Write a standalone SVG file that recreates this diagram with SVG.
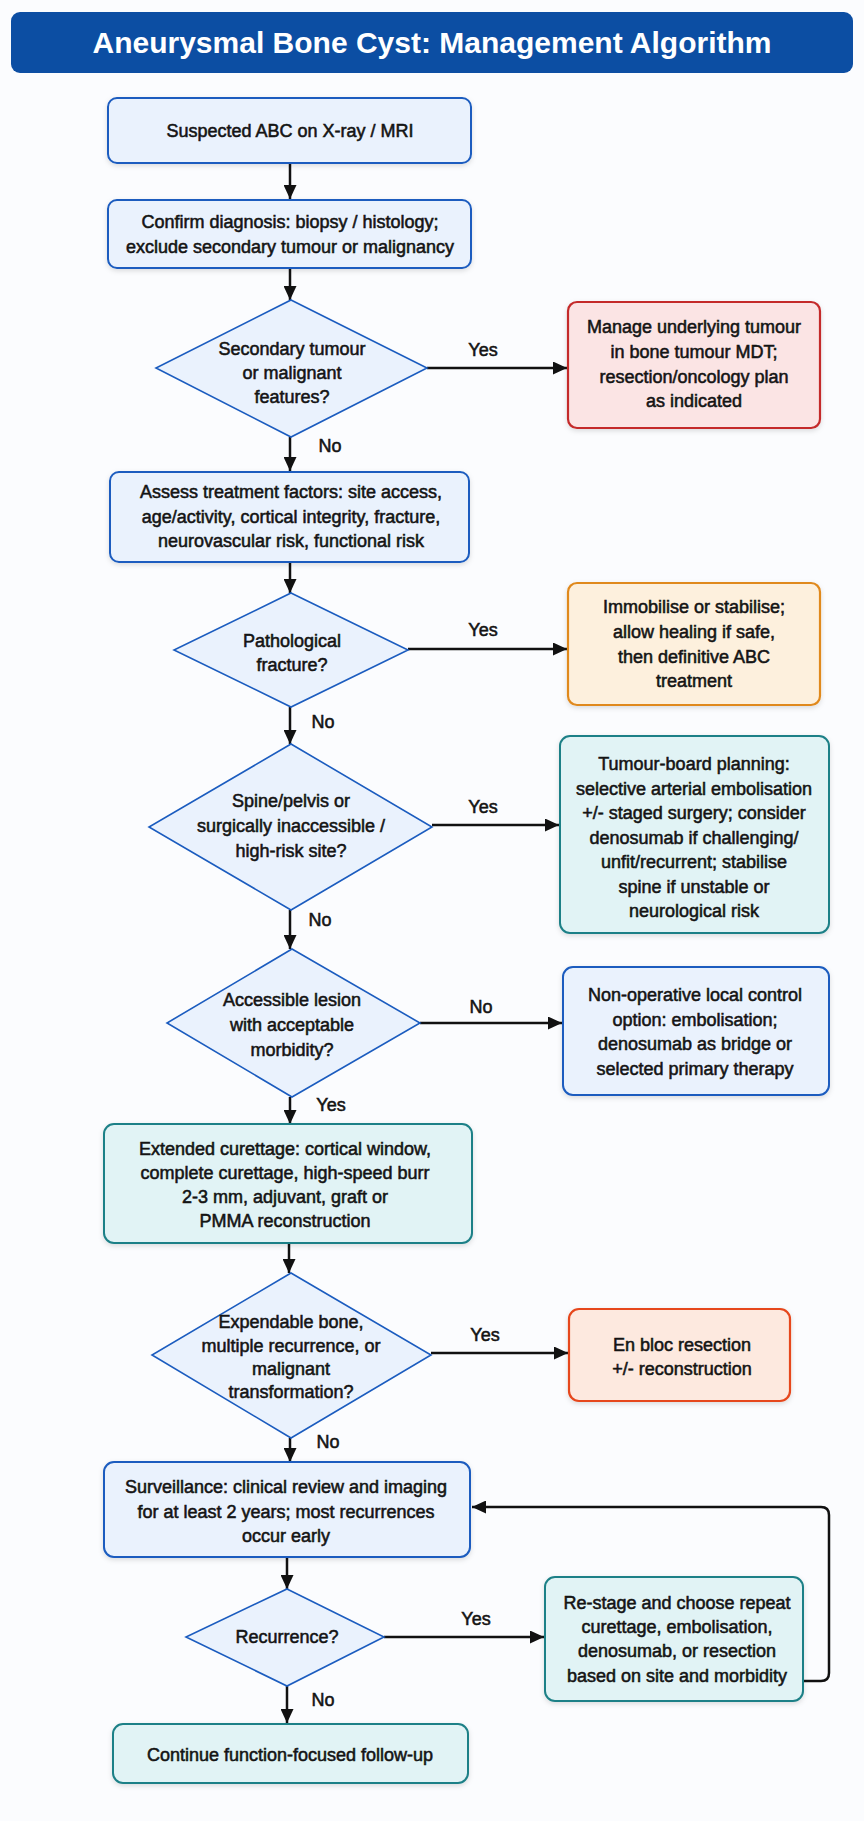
<svg xmlns="http://www.w3.org/2000/svg" width="864" height="1821" viewBox="0 0 864 1821">
<defs>
<filter id="sh" x="-10%" y="-10%" width="120%" height="130%"><feDropShadow dx="0" dy="2" stdDeviation="2.5" flood-color="#000" flood-opacity="0.13"/></filter>
<marker id="ah" viewBox="0 0 14 13" refX="14" refY="6.5" markerWidth="14" markerHeight="13" markerUnits="userSpaceOnUse" orient="auto"><path d="M0,0 L14,6.5 L0,13 z" fill="#111"/></marker>
<style>
.t{font-family:"Liberation Sans",Arial,sans-serif;font-size:18px;fill:#141414;text-anchor:middle;stroke:#141414;stroke-width:0.55}
.title{font-family:"Liberation Sans",Arial,sans-serif;font-size:30px;font-weight:bold;fill:#fff;text-anchor:middle}
.blue{fill:#eaf2fd;stroke:#1b5cbf;stroke-width:2}
.dia{fill:#eaf2fd;stroke:#1b5cbf;stroke-width:1.6}
.teal{fill:#e1f3f5;stroke:#1f8087;stroke-width:2}
.red{fill:#fbe4e4;stroke:#c42a2a;stroke-width:2.2}
.orange{fill:#fdf0dd;stroke:#e0891f;stroke-width:2.2}
.enbloc{fill:#fde9df;stroke:#e6461b;stroke-width:2.2}
.c{fill:none;stroke:#111;stroke-width:2.5;marker-end:url(#ah)}
</style>
</defs>
<rect width="864" height="1821" fill="#fbfcfe"/>
<g id="title">
<rect x="11" y="12" width="842" height="61" rx="9" fill="#0c4ea3"/>
<text class="title" x="432" y="53">Aneurysmal Bone Cyst: Management Algorithm</text>
</g>
<g id="connectors">
<path class="c" d="M290,163 V199"/>
<path class="c" d="M290,268 V300"/>
<path class="c" d="M427,368 H567"/>
<path class="c" d="M290,437 V471"/>
<path class="c" d="M290,562 V593"/>
<path class="c" d="M408,649 H567"/>
<path class="c" d="M290,707 V744"/>
<path class="c" d="M432,825 H559"/>
<path class="c" d="M290,910 V949"/>
<path class="c" d="M420,1023 H562"/>
<path class="c" d="M290,1097 V1124"/>
<path class="c" d="M289,1243 V1273"/>
<path class="c" d="M431,1353 H568"/>
<path class="c" d="M290,1438 V1462"/>
<path class="c" d="M287,1557 V1589"/>
<path class="c" d="M384,1637 H544"/>
<path class="c" d="M803,1681 H821 Q829,1681 829,1673 V1515 Q829,1507 821,1507 H472"/>
<path class="c" d="M287,1686 V1723"/>
<text class="t" x="483" y="356">Yes</text>
<text class="t" x="330" y="452">No</text>
<text class="t" x="483" y="636">Yes</text>
<text class="t" x="323" y="728">No</text>
<text class="t" x="483" y="813">Yes</text>
<text class="t" x="320" y="926">No</text>
<text class="t" x="481" y="1013">No</text>
<text class="t" x="331" y="1111">Yes</text>
<text class="t" x="485" y="1341">Yes</text>
<text class="t" x="328" y="1448">No</text>
<text class="t" x="476" y="1625">Yes</text>
<text class="t" x="323" y="1706">No</text>
</g>
<g id="n1">
<rect class="blue" x="108" y="98" width="363" height="65" rx="9" filter="url(#sh)"/>
<text class="t" x="290" y="137">Suspected ABC on X-ray / MRI</text>
</g>
<g id="n2">
<rect class="blue" x="108" y="200" width="363" height="68" rx="9" filter="url(#sh)"/>
<text class="t" x="290" y="228">Confirm diagnosis: biopsy / histology;</text>
<text class="t" x="290" y="253">exclude secondary tumour or malignancy</text>
</g>
<g id="d1">
<polygon class="dia" points="291,300 427,368 291,437 156,368"/>
<text class="t" x="292" y="355">Secondary tumour</text>
<text class="t" x="292" y="379">or malignant</text>
<text class="t" x="292" y="403">features?</text>
</g>
<g id="n_mdt">
<rect class="red" x="568" y="302" width="252" height="126" rx="9" filter="url(#sh)"/>
<text class="t" x="694" y="333">Manage underlying tumour</text>
<text class="t" x="694" y="358">in bone tumour MDT;</text>
<text class="t" x="694" y="383">resection/oncology plan</text>
<text class="t" x="694" y="407">as indicated</text>
</g>
<g id="n3">
<rect class="blue" x="110" y="472" width="359" height="90" rx="9" filter="url(#sh)"/>
<text class="t" x="291" y="498">Assess treatment factors: site access,</text>
<text class="t" x="291" y="523">age/activity, cortical integrity, fracture,</text>
<text class="t" x="291" y="547">neurovascular risk, functional risk</text>
</g>
<g id="d2">
<polygon class="dia" points="291,593 408,650 291,707 174,650"/>
<text class="t" x="292" y="647">Pathological</text>
<text class="t" x="292" y="671">fracture?</text>
</g>
<g id="n_fx">
<rect class="orange" x="568" y="583" width="252" height="122" rx="9" filter="url(#sh)"/>
<text class="t" x="694" y="613">Immobilise or stabilise;</text>
<text class="t" x="694" y="638">allow healing if safe,</text>
<text class="t" x="694" y="663">then definitive ABC</text>
<text class="t" x="694" y="687">treatment</text>
</g>
<g id="d3">
<polygon class="dia" points="291,744 432,827 291,910 149,827"/>
<text class="t" x="291" y="807">Spine/pelvis or</text>
<text class="t" x="291" y="832">surgically inaccessible /</text>
<text class="t" x="291" y="857">high-risk site?</text>
</g>
<g id="n_board">
<rect class="teal" x="560" y="736" width="269" height="197" rx="10" filter="url(#sh)"/>
<text class="t" x="694" y="770">Tumour-board planning:</text>
<text class="t" x="694" y="795">selective arterial embolisation</text>
<text class="t" x="694" y="819">+/- staged surgery; consider</text>
<text class="t" x="694" y="844">denosumab if challenging/</text>
<text class="t" x="694" y="868">unfit/recurrent; stabilise</text>
<text class="t" x="694" y="893">spine if unstable or</text>
<text class="t" x="694" y="917">neurological risk</text>
</g>
<g id="d4">
<polygon class="dia" points="292,949 420,1023 292,1097 167,1023"/>
<text class="t" x="292" y="1006">Accessible lesion</text>
<text class="t" x="292" y="1031">with acceptable</text>
<text class="t" x="292" y="1056">morbidity?</text>
</g>
<g id="n_nonop">
<rect class="blue" x="563" y="967" width="266" height="128" rx="10" filter="url(#sh)"/>
<text class="t" x="695" y="1001">Non-operative local control</text>
<text class="t" x="695" y="1026">option: embolisation;</text>
<text class="t" x="695" y="1050">denosumab as bridge or</text>
<text class="t" x="695" y="1075">selected primary therapy</text>
</g>
<g id="n_curettage">
<rect class="teal" x="104" y="1124" width="368" height="119" rx="10" filter="url(#sh)"/>
<text class="t" x="285" y="1155">Extended curettage: cortical window,</text>
<text class="t" x="285" y="1179">complete curettage, high-speed burr</text>
<text class="t" x="285" y="1203">2-3 mm, adjuvant, graft or</text>
<text class="t" x="285" y="1227">PMMA reconstruction</text>
</g>
<g id="d5">
<polygon class="dia" points="291,1273 431,1355 291,1438 152,1355"/>
<text class="t" x="291" y="1328">Expendable bone,</text>
<text class="t" x="291" y="1352">multiple recurrence, or</text>
<text class="t" x="291" y="1375">malignant</text>
<text class="t" x="291" y="1398">transformation?</text>
</g>
<g id="n_enbloc">
<rect class="enbloc" x="569" y="1309" width="221" height="92" rx="10" filter="url(#sh)"/>
<text class="t" x="682" y="1351">En bloc resection</text>
<text class="t" x="682" y="1375">+/- reconstruction</text>
</g>
<g id="n_surv">
<rect class="blue" x="104" y="1462" width="366" height="95" rx="10" filter="url(#sh)"/>
<text class="t" x="286" y="1493">Surveillance: clinical review and imaging</text>
<text class="t" x="286" y="1518">for at least 2 years; most recurrences</text>
<text class="t" x="286" y="1542">occur early</text>
</g>
<g id="d6">
<polygon class="dia" points="287,1589 384,1637 287,1686 186,1637"/>
<text class="t" x="287" y="1643">Recurrence?</text>
</g>
<g id="n_restage">
<rect class="teal" x="545" y="1577" width="258" height="124" rx="10" filter="url(#sh)"/>
<text class="t" x="677" y="1609">Re-stage and choose repeat</text>
<text class="t" x="677" y="1633">curettage, embolisation,</text>
<text class="t" x="677" y="1657">denosumab, or resection</text>
<text class="t" x="677" y="1682">based on site and morbidity</text>
</g>
<g id="n_follow">
<rect class="teal" x="113" y="1724" width="355" height="59" rx="10" filter="url(#sh)"/>
<text class="t" x="290" y="1761">Continue function-focused follow-up</text>
</g>
</svg>
